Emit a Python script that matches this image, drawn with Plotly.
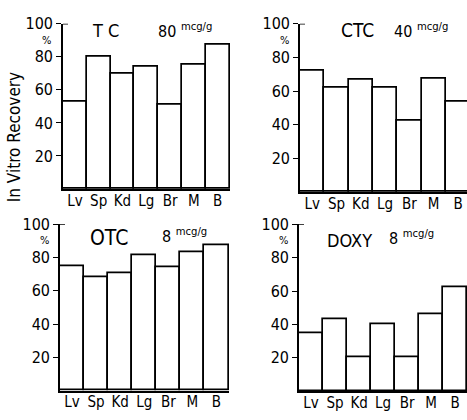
import plotly.graph_objects as go

tissues = ["Lv", "Sp", "Kd", "Lg", "Br", "M", "B"]
tc_vals = [53, 80, 70, 74, 51, 75, 87.5]
ctc_vals = [72, 62, 67, 62, 42.5, 67.5, 53.5]
otc_vals = [75, 68, 70.5, 81.5, 74, 83, 87.5]
doxy_vals = [34.5, 43, 20.5, 40, 20, 46, 62.5]

drugs = ["T C", "CTC", "OTC", "DOXY"]
doses = ["80", "40", "8", "8"]
y_ticks = [20, 40, 60, 80, 100]

W, H = 467, 420
FONT = "DejaVu Sans Condensed, Liberation Sans Narrow, sans-serif"

# panel geometry (pixels): x_left, x_right, y_base(0), y_top(100), x range max
panels = [
    dict(x0=63, x1=230, yb=184, yt=15, rmax=6.52),
    dict(x0=300, x1=467, yb=187, yt=15, rmax=6.37),
    dict(x0=60, x1=229, yb=390, yt=220, rmax=6.52),
    dict(x0=299, x1=467, yb=390.5, yt=220, rmax=6.49),
]
series = [tc_vals, ctc_vals, otc_vals, doxy_vals]
title_pos = [(1.3, 96, 3.43, 96), (1.85, 96, 3.28, 96), (1.53, 92, 3.65, 93), (1.62, 90.5, 3.16, 92)]
title_sizes = [18, 19, 21, 18]

fig = go.Figure()
layout = dict(
    width=W, height=H, margin=dict(l=0, r=0, t=0, b=0),
    paper_bgcolor="white", plot_bgcolor="white", showlegend=False,
    bargap=0, font=dict(family=FONT, color="black"),
)
annotations = []
shapes = []
for i, (p, vals) in enumerate(zip(panels, series)):
    n = "" if i == 0 else str(i + 1)
    fig.add_trace(go.Bar(
        x=tissues, y=vals, xaxis="x" + n, yaxis="y" + n, width=1,
        marker=dict(color="white", line=dict(color="black", width=1.7)),
        hoverinfo="skip",
    ))
    layout["xaxis" + n] = dict(
        domain=[p["x0"] / W, min(p["x1"] / W, 1)], anchor="y" + n,
        range=[-0.5, p["rmax"]], showline=True, linecolor="black", linewidth=1.6,
        ticks="", showgrid=False, zeroline=False, ticklabelstandoff=-3,
        tickfont=dict(size=15, family=FONT), fixedrange=True,
    )
    layout["yaxis" + n] = dict(
        domain=[1 - p["yb"] / H, 1 - p["yt"] / H], anchor="x" + n,
        range=[0, 100], tickvals=y_ticks, ticktext=[str(v) for v in y_ticks],
        showline=True, linecolor="black", linewidth=1.6, ticks="outside",
        ticklen=5, tickcolor="black", tickwidth=1.2, showgrid=False, zeroline=False,
        tickfont=dict(size=16, family=FONT), ticklabelstandoff=0,
    )
    # top hook at 100
    shapes.append(dict(type="line", xref="x" + n + " domain", yref="y" + n,
                       x0=0, x1=5 / (p["x1"] - p["x0"]), y0=100, y1=100,
                       line=dict(color="black", width=1.4)))
    annotations.append(dict(text="%", xref="x" + n + " domain", yref="y" + n,
                            x=0, y=90, xanchor="center", yanchor="middle", xshift=-16,
                            showarrow=False, font=dict(size=11, family=FONT)))
    tx, ty, dx, dy = title_pos[i]
    annotations.append(dict(text=drugs[i], xref="x" + n, yref="y" + n, x=tx, y=ty,
                            showarrow=False, font=dict(size=title_sizes[i], family=FONT)))
    annotations.append(dict(text=doses[i] + " <sup>mcg/g</sup>", xref="x" + n, yref="y" + n,
                            x=dx, y=dy, xanchor="left", showarrow=False,
                            font=dict(size=16, family=FONT)))

annotations.append(dict(text="In Vitro Recovery", xref="paper", yref="paper",
                        x=14 / W, y=1 - 131 / H, xanchor="center", yanchor="middle",
                        textangle=-90, showarrow=False,
                        font=dict(size=17, family=FONT)))
layout["annotations"] = annotations
layout["shapes"] = shapes
fig.update_layout(**layout)
fig.write_html("out.html")
